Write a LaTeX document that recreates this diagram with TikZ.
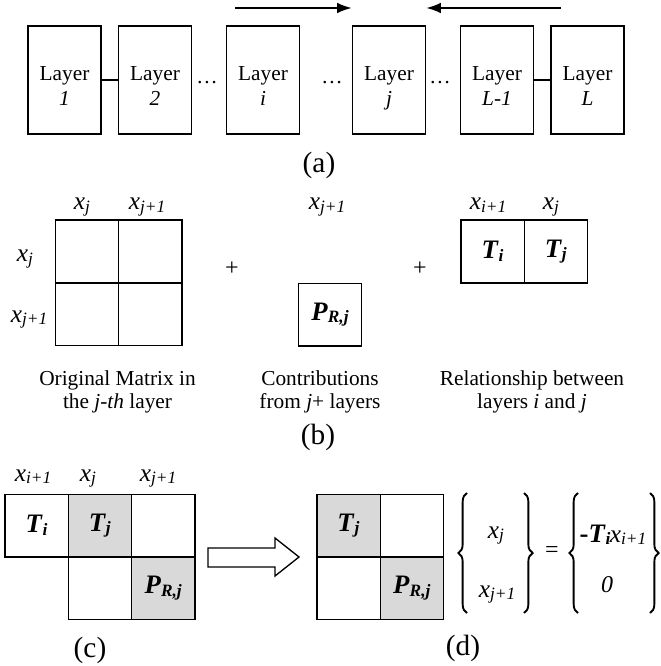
\documentclass[tikz,border=0pt]{standalone}
\usepackage{fontspec}
\setmainfont{Liberation Serif}
\usetikzlibrary{arrows.meta, positioning, decorations.pathreplacing}
\definecolor{cellgray}{HTML}{D9D9D9}
\newcommand{\sbs}[1]{\raisebox{-0.45ex}{\fontsize{13}{13}\selectfont #1}}
\newcommand{\xv}[1]{{\fontsize{19}{19}\selectfont\textit{x}}\sbs{\textit{#1}}}
\newcommand{\bv}[2]{{\fontsize{20}{20}\selectfont\textbf{\textit{#1}}}\sbs{\textbf{\textit{#2}}}}
\newcommand{\lay}[1]{\raisebox{-10pt}[0pt][0pt]{\begin{tabular}{@{}c@{}}Layer\\\textit{#1}\end{tabular}}}

\begin{document}
\begin{tikzpicture}[x=0.75pt, y=-0.75pt,
  layer/.style={draw, line width=1pt, minimum width=54.75pt, minimum height=81pt, inner sep=0pt, font=\fontsize{16}{18.75}\selectfont},
  cell/.style={draw, line width=1pt, minimum width=47.5pt, minimum height=47pt, inner sep=0pt, outer sep=0pt},
  shade/.style={fill=cellgray},
  lbl/.style={inner sep=0pt, anchor=base},
  note/.style={font=\fontsize{16}{17.25}\selectfont, align=center},
  captxt/.style={font=\fontsize{22}{22}\selectfont},
  flow/.style={line width=1.6pt, -{Latex[length=11pt, width=8pt]}},
  brc/.style={line width=1.4pt, decorate, decoration={brace, amplitude=6.5pt}}
]
\useasboundingbox (0,0) rectangle (660,666);

% (a) layers
\node[layer] (l1) at (64.5,80) {\lay{1}};
\node[layer] (l2) at (155,80) {\lay{2}};
\node[layer] (li) at (263,80) {\lay{i}};
\node[layer] (lj) at (389,80) {\lay{j}};
\node[layer] (lm) at (497,80) {\lay{L-1}};
\node[layer] (lL) at (587.5,80) {\lay{L}};
\draw[line width=1pt] (l1) -- (l2);
\draw[line width=1pt] (lm) -- (lL);
\node[font=\fontsize{16}{16}\selectfont] (dots1) at (207,83) {\dots};
\node[font=\fontsize{16}{16}\selectfont] (dots2) at (332,83) {\dots};
\node[font=\fontsize{16}{16}\selectfont] (dots3) at (440,83) {\dots};
\coordinate (fa) at (235,8);
\coordinate (fb) at (561,8);
\draw[flow] (fa) -- (lj.west |- fa);
\draw[flow] (fb) -- (lj.east |- fb);
\node[captxt] (capa) at (319,165) {(a)};

% (b) original matrix
\node[cell] (o11) at (87,251.5) {};
\node[cell, right=0pt of o11] (o12) {};
\node[cell, below=0pt of o11] (o21) {};
\node[cell, right=0pt of o21] (o22) {};
\node[lbl] (oc1) at (82,210) {\xv{j}};
\node[lbl] (oc2) at (147,210) {\xv{j+1}};
\node[lbl] (or1) at (25,262) {\xv{j}};
\node[lbl] (or2) at (29,322) {\xv{j+1}};
\node[font=\fontsize{18}{18}\selectfont] (plus1) at (232,269) {+};
% contributions
\node[cell] (pr) at (330,314.5) {\bv{P}{R,j}};
\node[lbl] (pc) at (327,210) {\xv{j+1}};
\node[font=\fontsize{18}{18}\selectfont] (plus2) at (420,269) {+};
% relationship
\node[cell] (ti) at (492.5,251.5) {\bv{T}{i}};
\node[cell, right=0pt of ti] (tj) {\bv{T}{j}};
\node[lbl] (tc1) at (488,210) {\xv{i+1}};
\node[lbl] (tc2) at (551,210) {\xv{j}};
\node[note] (n1) at (117.5,392) {Original Matrix in\\the \textit{j-th} layer};
\node[note] (n2) at (320,392) {Contributions\\from \textit{j}+ layers};
\node[note] (n3) at (532,392) {Relationship between\\layers \textit{i} and \textit{j}};
\node[captxt] (capb) at (318,437) {(b)};

% (c) combined matrix
\node[cell] (c11) at (36.5,525.5) {\bv{T}{i}};
\node[cell, shade, right=0pt of c11] (c12) {\bv{T}{j}};
\node[cell, right=0pt of c12] (c13) {};
\node[cell, below=0pt of c12] (c22) {};
\node[cell, shade, right=0pt of c22] (c23) {\bv{P}{R,j}};
\node[lbl] (cc1) at (33,481) {\xv{i+1}};
\node[lbl] (cc2) at (88,481) {\xv{j}};
\node[lbl] (cc3) at (158,481) {\xv{j+1}};
\draw[line width=1pt] (208,548) -- (275,548) -- (275,538) -- (299,557) -- (275,576) -- (275,567) -- (208,567) -- cycle;
\node[captxt] (capc) at (90,650) {(c)};

% (d) reduced system
\node[cell, shade] (d11) at (348.5,525.5) {\bv{T}{j}};
\node[cell, right=0pt of d11] (d12) {};
\node[cell, below=0pt of d11] (d21) {};
\node[cell, shade, right=0pt of d21] (d22) {\bv{P}{R,j}};
\node[lbl] (v1) at (496,538) {\xv{j}};
\node[lbl] (v2) at (497,597) {\xv{j+1}};
\draw[brc] (467,613) -- (467,493);
\draw[brc] (524,493) -- (524,613);
\node[font=\fontsize{18}{18}\selectfont] (eq) at (552,552) {=};
\node[lbl] (w1) at (613,542) {{\fontsize{20}{20}\selectfont\textbf{-\textit{T}}}\sbs{\textbf{\textit{i}}}\kern-0.5pt\xv{i+1}};
\node[lbl] (w2) at (607,592) {{\fontsize{18}{18}\selectfont\textit{0}}};
\draw[brc] (578,613) -- (578,493);
\draw[brc] (650,493) -- (650,613);
\node[captxt] (capd) at (463,648) {(d)};
\end{tikzpicture}
\end{document}
